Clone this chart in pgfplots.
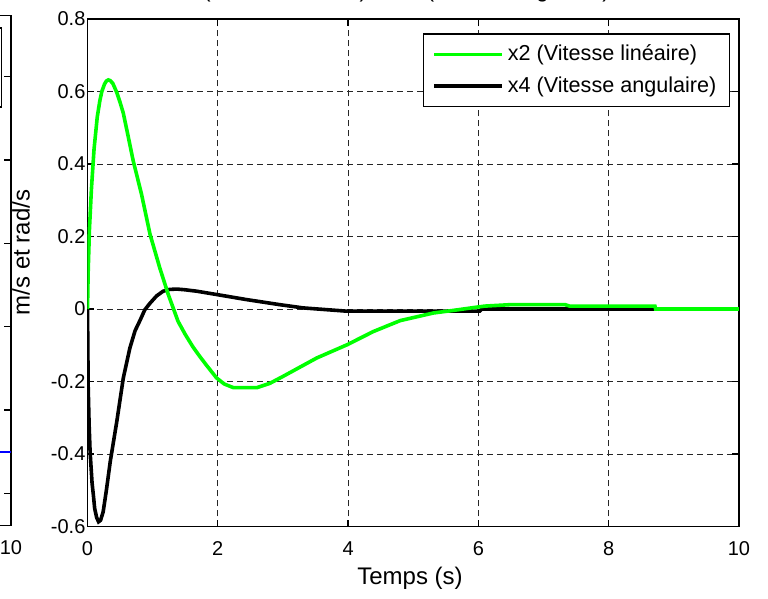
\documentclass[border=0pt]{standalone}
\usepackage{fontspec}
\setmainfont{Liberation Sans}
\usepackage{pgfplots}
\pgfplotsset{compat=1.18}

\definecolor{mgreen}{rgb}{0,1,0}
\definecolor{mblue}{rgb}{0,0,1}

\begin{document}
\begin{tikzpicture}
\useasboundingbox (0,0) rectangle (384pt,299.5pt);
\clip (0,0) rectangle (384pt,299.5pt);
\pgfplotsset{
  mstyle/.style={
    scale only axis,
    axis line style={line width=0.6pt},
    tick style={black, line width=0.6pt},
    major tick length=3.3pt,
    tick align=inside,
    ticklabel style={font=\fontsize{10}{12}\selectfont},
    /pgf/number format/assume math mode=true,
    label style={font=\fontsize{12}{14}\selectfont},
    xticklabel style={yshift=-3.9pt},
    yticklabel style={xshift=2.5pt},
  }
}

% left subplot (only its right edge is in the picture)
\begin{axis}[mstyle,
  at={(5.5pt,36.65pt)}, anchor=south east,
  width=325pt, height=255pt,
  xmin=0, xmax=10, ymin=-0.389, ymax=5.732,
  xtick={10},
  ytick={0,1,2,3,4,5}, yticklabels={},
]
\addplot[mblue, line width=1pt] coordinates {(8,0.5) (10,0.5)};
\end{axis}
\draw[line width=0.6pt] (-5pt,285.5pt) -- (0.6pt,285.5pt) -- (0.6pt,246pt) -- (-5pt,246pt);

% main plot
\begin{axis}[mstyle,
  at={(43.75pt,36.25pt)}, anchor=south west,
  width=325.75pt, height=253.75pt,
  xmin=0, xmax=10, ymin=-0.6, ymax=0.8,
  xtick={0,2,4,6,8,10},
  ytick={-0.6,-0.4,-0.2,0,0.2,0.4,0.6,0.8},
  grid=major,
  major grid style={dash pattern=on 3pt off 2pt, black!85, line width=0.4pt},
  xlabel={Temps (s)},
  ylabel={m/s et rad/s},
  xlabel style={at={(axis description cs:0.495,-0.1015)}, anchor=center},
  ylabel style={at={(axis description cs:-0.102,0.54)}, anchor=center},
  reverse legend,
  legend cell align=left,
  legend image code/.code={\draw[#1] (0pt,0pt) -- (34pt,0pt);},
  legend style={at={(0.9862,0.9718)}, anchor=north east, draw=black,
    line width=0.6pt, inner xsep=4.5pt, inner ysep=3.5pt, row sep=2.5pt,
    font=\fontsize{10.8}{12.6}\selectfont},
]
\addplot[black, line width=1.8pt] coordinates {
  (0,0) (0.005,-0.1) (0.01,-0.21) (0.025,-0.32) (0.04,-0.394) (0.07,-0.48)
  (0.09,-0.513) (0.11,-0.55) (0.14,-0.575) (0.17,-0.587) (0.2,-0.583)
  (0.24,-0.56) (0.29,-0.5) (0.35,-0.42) (0.45,-0.31) (0.55,-0.19)
  (0.65,-0.108) (0.73,-0.06) (0.81,-0.03) (0.88,-0.002) (0.96,0.016)
  (1.06,0.036) (1.16,0.049) (1.26,0.054) (1.37,0.055) (1.5,0.053)
  (1.68,0.049) (1.98,0.040) (2.44,0.026) (2.95,0.012) (3.31,0.003)
  (3.98,-0.006) (6.02,-0.006) (6.05,0) (10,0)
};
\addlegendentry{x4 (Vitesse angulaire)}
\addplot[mgreen, line width=1.8pt] coordinates {
  (0,0) (0.01,0.1) (0.03,0.22) (0.06,0.33) (0.1,0.44) (0.15,0.53)
  (0.19,0.575) (0.22,0.60) (0.26,0.62) (0.29,0.629) (0.32,0.632)
  (0.35,0.63) (0.39,0.622) (0.45,0.597) (0.5,0.57) (0.55,0.54)
  (0.62,0.48) (0.70,0.41) (0.83,0.316) (0.96,0.206) (1.11,0.113) (1.24,0.04)
  (1.39,-0.034) (1.5,-0.07) (1.62,-0.105) (1.72,-0.13) (1.83,-0.156)
  (1.98,-0.19) (2.1,-0.207) (2.24,-0.217) (2.6,-0.217) (2.8,-0.205)
  (3.0,-0.186) (3.52,-0.135) (3.98,-0.099) (4.39,-0.062) (4.8,-0.032)
  (5.31,-0.011) (5.61,-0.004) (5.97,0.005) (6.1,0.008) (6.49,0.012)
  (7.33,0.012) (7.4,0.008) (8.71,0.008) (8.72,0) (10,0)
};
\addlegendentry{x2 (Vitesse linéaire)}
\end{axis}

% title, cut by the top edge of the picture
\node[anchor=base, font=\fontsize{11}{12}\selectfont, inner sep=0pt] at (196pt,300.6pt)
  {x2 (Vitesse linéaire) et x4 (Vitesse angulaire)};
\end{tikzpicture}
\end{document}
